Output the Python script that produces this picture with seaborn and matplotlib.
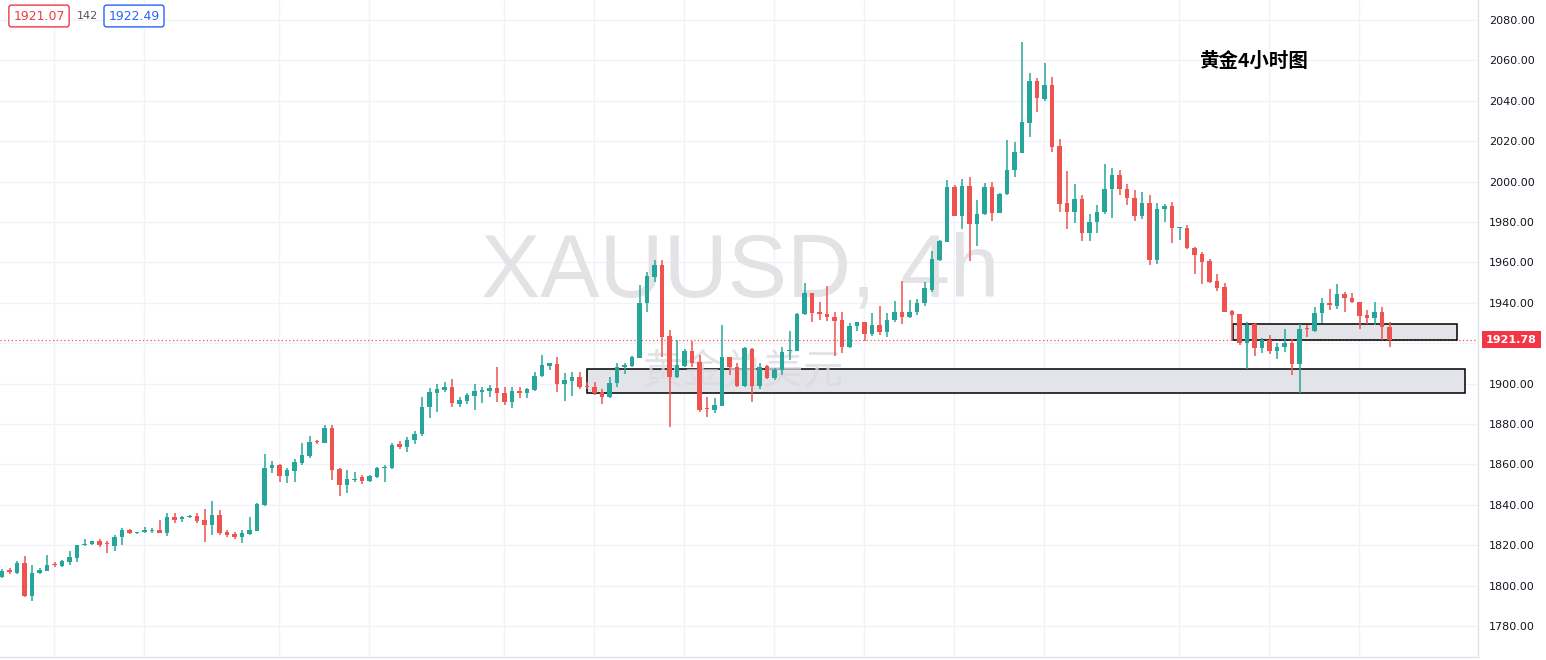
import numpy as np
import pandas as pd
import seaborn as sns
import matplotlib.pyplot as plt
from matplotlib.patches import Rectangle

# 4h candles (XAUUSD)
opens = [1804.4, 1807.5, 1806.4, 1811.0, 1795.0, 1806.1, 1807.4, 1810.5, 1809.7, 1811.7,
         1813.8, 1820.0, 1820.6, 1822.1, 1821.0, 1819.8, 1823.9, 1827.5, 1825.8, 1826.4,
         1827.0, 1827.5, 1825.9, 1834.1, 1832.8, 1833.8, 1834.5, 1832.5, 1830.2, 1835.0,
         1826.6, 1825.6, 1823.9, 1825.6, 1827.2, 1840.0, 1858.0, 1859.7, 1854.4, 1856.9,
         1860.8, 1864.1, 1871.3, 1870.7, 1877.8, 1857.5, 1849.8, 1852.2, 1853.6, 1851.9,
         1853.9, 1858.4, 1858.0, 1870.0, 1868.8, 1872.0, 1875.0, 1888.6, 1895.5, 1896.8,
         1898.3, 1889.9, 1891.6, 1893.9, 1896.0, 1896.5, 1898.0, 1895.5, 1891.1, 1896.5,
         1895.5, 1896.8, 1903.7, 1908.7, 1909.7, 1899.8, 1901.4, 1903.4, 1898.6, 1898.4,
         1896.0, 1893.2, 1900.1, 1908.1, 1908.7, 1912.8, 1939.7, 1953.0, 1958.7, 1923.6,
         1903.4, 1908.7, 1916.3, 1910.9, 1887.6, 1886.9, 1889.1, 1913.3, 1908.1, 1898.8,
         1917.0, 1898.8, 1908.7, 1902.6, 1906.7, 1916.3, 1916.3, 1934.5, 1945.0, 1935.6,
         1934.5, 1932.8, 1931.5, 1918.3, 1928.5, 1930.5, 1924.6, 1929.0, 1925.7, 1931.5,
         1935.6, 1933.1, 1935.6, 1940.0, 1946.5, 1961.2, 1970.3, 1997.5, 1983.0, 1997.8,
         1978.8, 1984.0, 1997.5, 1984.6, 1993.7, 2005.7, 2014.3, 2029.2, 2049.9, 2040.9,
         2047.8, 2017.6, 1989.2, 1985.1, 1991.2, 1974.4, 1980.2, 1985.1, 1996.2, 2003.1,
         1996.2, 1991.7, 1983.1, 1989.2, 1961.2, 1986.3, 1987.9, 1977.2, 1976.9, 1967.0,
         1964.2, 1960.9, 1950.8, 1947.7, 1936.0, 1934.5, 1920.3, 1929.3, 1917.5, 1921.6,
         1916.3, 1918.0, 1920.3, 1909.7, 1927.5, 1926.2, 1935.1, 1939.7, 1938.5, 1944.2,
         1942.2, 1940.5, 1933.9, 1932.3, 1935.6, 1927.8]
highs = [1808.0, 1808.5, 1812.0, 1814.7, 1810.2, 1808.6, 1815.2, 1811.5, 1812.6, 1817.3,
         1820.0, 1823.3, 1822.3, 1823.0, 1822.3, 1825.1, 1828.7, 1828.0, 1826.6, 1828.9,
         1828.4, 1832.5, 1835.8, 1835.8, 1834.5, 1835.0, 1835.8, 1837.8, 1842.1, 1837.4,
         1827.5, 1826.7, 1827.5, 1833.8, 1840.7, 1865.1, 1861.6, 1860.0, 1858.0, 1862.6,
         1870.4, 1874.0, 1872.0, 1879.5, 1879.5, 1858.0, 1857.2, 1856.4, 1854.7, 1854.7,
         1858.8, 1859.7, 1870.4, 1871.5, 1873.5, 1876.5, 1893.2, 1897.7, 1899.8, 1901.0,
         1902.1, 1893.2, 1895.5, 1899.8, 1898.2, 1899.3, 1908.4, 1898.5, 1898.5, 1898.2,
         1897.6, 1905.9, 1914.1, 1910.3, 1913.3, 1905.4, 1905.9, 1905.9, 1900.9, 1900.9,
         1897.1, 1903.4, 1910.0, 1910.3, 1913.6, 1948.8, 1955.0, 1961.2, 1961.2, 1926.5,
         1921.6, 1917.0, 1921.3, 1914.2, 1893.5, 1892.7, 1929.0, 1913.3, 1910.0, 1918.0,
         1917.5, 1910.4, 1909.0, 1907.6, 1918.3, 1926.2, 1935.1, 1950.0, 1945.0, 1940.6,
         1948.3, 1935.6, 1935.6, 1930.2, 1930.7, 1930.5, 1934.8, 1938.4, 1935.1, 1941.1,
         1950.8, 1941.4, 1942.0, 1950.4, 1965.8, 1971.1, 2000.8, 1998.3, 2001.1, 2002.4,
         1990.9, 1999.1, 2000.0, 1994.2, 2020.6, 2019.8, 2069.3, 2053.6, 2051.5, 2058.9,
         2052.0, 2020.9, 2005.4, 1998.8, 1993.4, 1984.0, 1988.4, 2008.7, 2006.6, 2005.7,
         1998.8, 1995.8, 1994.9, 1993.4, 1989.2, 1988.9, 1990.1, 1977.6, 1978.5, 1967.8,
         1965.3, 1961.5, 1954.3, 1950.0, 1936.4, 1934.5, 1930.7, 1929.8, 1922.4, 1924.1,
         1920.0, 1926.9, 1921.9, 1929.5, 1929.0, 1938.0, 1942.2, 1946.6, 1949.1, 1945.5,
         1945.0, 1940.5, 1936.4, 1940.2, 1938.0, 1930.6]
lows = [1803.8, 1805.5, 1805.8, 1794.5, 1792.6, 1805.5, 1807.0, 1809.0, 1809.0, 1810.2,
        1811.9, 1819.8, 1820.3, 1819.3, 1816.0, 1817.2, 1820.1, 1825.5, 1825.5, 1825.9,
        1825.9, 1825.9, 1824.7, 1831.2, 1831.7, 1833.5, 1830.8, 1821.8, 1825.1, 1825.1,
        1823.9, 1823.3, 1821.3, 1825.1, 1826.9, 1839.5, 1855.5, 1851.4, 1850.9, 1851.4,
        1859.7, 1863.3, 1870.0, 1870.4, 1852.2, 1844.5, 1846.0, 1851.4, 1850.3, 1851.4,
        1853.4, 1851.4, 1857.5, 1867.5, 1866.0, 1870.0, 1874.0, 1882.8, 1886.1, 1896.0,
        1888.6, 1888.6, 1889.9, 1887.0, 1890.6, 1893.5, 1891.1, 1889.4, 1887.8, 1892.7,
        1892.7, 1896.3, 1903.4, 1906.7, 1896.0, 1891.5, 1893.8, 1897.1, 1897.1, 1894.3,
        1889.9, 1892.7, 1898.4, 1904.7, 1908.3, 1912.5, 1935.6, 1950.5, 1913.3, 1878.7,
        1903.0, 1908.1, 1908.4, 1886.1, 1883.6, 1885.6, 1889.1, 1904.3, 1898.2, 1898.5,
        1891.1, 1897.2, 1902.1, 1901.8, 1904.3, 1911.7, 1916.3, 1934.0, 1930.7, 1931.5,
        1931.2, 1913.7, 1915.0, 1917.8, 1926.2, 1921.3, 1923.6, 1924.1, 1923.2, 1930.7,
        1929.5, 1932.3, 1934.0, 1938.5, 1945.5, 1960.9, 1970.3, 1982.9, 1976.4, 1960.9,
        1968.1, 1983.5, 1980.7, 1984.3, 1993.4, 2002.4, 2014.3, 2021.9, 2034.6, 2040.1,
        2014.8, 1985.1, 1976.4, 1979.7, 1970.8, 1970.8, 1974.4, 1984.0, 1981.8, 1993.4,
        1988.4, 1980.7, 1981.3, 1958.7, 1959.2, 1980.2, 1969.8, 1971.1, 1966.6, 1954.3,
        1949.3, 1950.0, 1946.0, 1935.6, 1921.6, 1919.1, 1907.1, 1913.7, 1915.3, 1914.7,
        1912.0, 1915.8, 1904.3, 1895.2, 1923.2, 1925.7, 1930.1, 1936.4, 1936.7, 1935.6,
        1939.7, 1926.8, 1929.5, 1929.0, 1921.5, 1917.9]
closes = [1807.4, 1806.8, 1811.4, 1795.0, 1806.1, 1807.8, 1810.2, 1810.0, 1812.2, 1814.0,
          1820.0, 1820.3, 1822.0, 1820.1, 1820.6, 1823.9, 1827.5, 1825.9, 1826.4, 1827.5,
          1827.3, 1825.9, 1833.8, 1832.5, 1834.1, 1834.5, 1832.2, 1830.0, 1835.0, 1826.2,
          1825.1, 1824.2, 1825.9, 1827.5, 1840.4, 1858.0, 1859.7, 1854.4, 1857.2, 1861.0,
          1864.6, 1870.9, 1870.9, 1877.8, 1857.2, 1849.8, 1852.6, 1853.0, 1851.9, 1854.2,
          1858.3, 1858.8, 1869.6, 1868.8, 1872.0, 1875.0, 1888.6, 1896.0, 1897.2, 1898.3,
          1890.2, 1891.9, 1894.4, 1896.4, 1896.8, 1897.7, 1895.2, 1891.1, 1896.4, 1895.5,
          1897.1, 1903.7, 1909.2, 1910.0, 1899.8, 1901.7, 1903.4, 1898.1, 1898.1, 1895.1,
          1893.2, 1900.4, 1908.3, 1909.2, 1913.3, 1939.7, 1953.2, 1958.7, 1923.2, 1903.4,
          1909.2, 1916.3, 1910.4, 1886.9, 1887.2, 1889.4, 1913.3, 1908.1, 1898.8, 1917.5,
          1898.8, 1908.4, 1902.6, 1906.7, 1915.8, 1916.8, 1934.5, 1945.0, 1935.1, 1934.3,
          1932.8, 1931.2, 1918.3, 1928.5, 1930.3, 1924.6, 1929.0, 1925.7, 1931.5, 1935.6,
          1933.1, 1935.6, 1940.0, 1947.1, 1961.5, 1970.8, 1997.5, 1983.0, 1997.8, 1978.8,
          1984.0, 1997.5, 1984.6, 1993.9, 2005.7, 2014.8, 2029.7, 2049.9, 2041.2, 2047.8,
          2017.3, 1988.9, 1985.1, 1991.2, 1974.4, 1980.2, 1985.1, 1996.2, 2003.1, 1996.2,
          1991.7, 1983.1, 1989.2, 1961.2, 1986.3, 1987.9, 1976.9, 1977.6, 1967.0, 1963.7,
          1960.4, 1950.5, 1947.5, 1935.6, 1934.0, 1919.9, 1929.0, 1917.5, 1921.6, 1916.3,
          1918.3, 1920.3, 1909.7, 1926.9, 1926.9, 1935.1, 1939.7, 1938.9, 1944.2, 1942.2,
          1940.5, 1933.6, 1932.3, 1935.2, 1927.8, 1921.78]

# support / resistance zones (candle index from/to, price low/high)
zone_start = [78.0, 164.1]
zone_end = [195.0, 194.0]
zone_low = [1895.3, 1921.4]
zone_high = [1907.4, 1929.4]

last_price = 1921.78
y_ticks = list(range(1780, 2081, 20))
day_lines = [7, 19, 37, 49, 67, 79, 91, 103, 115, 127, 139, 157, 169, 181]

UP = "#26a69a"
DOWN = "#ef5350"

df = pd.DataFrame({"open": opens, "high": highs, "low": lows, "close": closes})
df["idx"] = np.arange(len(df))
df["color"] = np.where(df["close"] >= df["open"], UP, DOWN)
df["bottom"] = df[["open", "close"]].min(axis=1)
df["body"] = (df["close"] - df["open"]).abs().clip(lower=0.5)

sns.set_theme(style="white")
plt.rcParams["font.family"] = ["DejaVu Sans", "Noto Sans CJK SC"]

fig = plt.figure(figsize=(15.46, 6.6), dpi=100)
ax = fig.add_axes([0, 3 / 660, 1478 / 1546, 657 / 660])

# grid
for v in y_ticks:
    ax.axhline(v, color="#f0f3fa", lw=1, zorder=0)
for d in day_lines:
    ax.axvline(d - 0.07, color="#f0f3fa", lw=1, zorder=0)

# watermark
ax.text(740 / 1478, 1 - 273 / 657, "XAUUSD, 4h", transform=ax.transAxes,
        ha="center", va="center", fontsize=64, color="#e3e3e6",
        family=["Liberation Sans", "DejaVu Sans"], zorder=0.5)
ax.text(743 / 1478, 1 - 372 / 657, "黄金兑美元", transform=ax.transAxes,
        ha="center", va="center", fontsize=29, color="#dcdcdf", alpha=0.8,
        family=["Noto Sans CJK SC", "DejaVu Sans"], zorder=2.5)

# zones
for x0, x1, lo, hi in zip(zone_start, zone_end, zone_low, zone_high):
    ax.add_patch(Rectangle((x0, lo), x1 - x0, hi - lo, facecolor="#e2e4e9",
                           edgecolor="#000000", lw=1.1, zorder=2))

# candles
ax.vlines(df["idx"], df["low"], df["high"], colors=df["color"], lw=1.1, zorder=3)
ax.bar(df["idx"], df["body"], bottom=df["bottom"], width=0.62,
       color=df["color"], linewidth=0, zorder=4)

# last price line
ax.axhline(last_price, color=DOWN, lw=0.9, ls=(0, (1, 2)), zorder=1)

ax.set_xlim(-0.27, 196.8)
ax.set_ylim(1764.65, 2089.9)
ax.set_xticks([])
ax.yaxis.tick_right()
ax.set_yticks(y_ticks)
# the 1920 label sits under the last-price tag
ax.set_yticklabels(["" if v == 1920 else f"{v:.2f}" for v in y_ticks])
ax.tick_params(axis="y", length=0, pad=8, labelsize=8, labelcolor="#131722")
for s in ["top", "left"]:
    ax.spines[s].set_visible(False)
for s in ["right", "bottom"]:
    ax.spines[s].set_color("#e0e3eb")
    ax.spines[s].set_linewidth(1)

# price tag on the axis
ax.annotate(f"{last_price:.2f}", xy=(1.0, last_price),
            xycoords=("axes fraction", "data"), xytext=(24, 0),
            textcoords="offset points", ha="center", va="center",
            fontsize=8, fontweight="bold", color="white",
            bbox=dict(boxstyle="square,pad=0.35", fc="#f23645", ec="none"),
            annotation_clip=False)

# title
ax.text(1253 / 1478, 1 - 61 / 657, "黄金4小时图", transform=ax.transAxes,
        ha="center", va="center", fontsize=14, fontweight="bold", color="#000000",
        family=["Noto Sans CJK SC", "DejaVu Sans"], zorder=6)

# top-left price boxes
fig.text(39 / 1546, 1 - 16 / 660, "1921.07", ha="center", va="center", fontsize=9,
         color="#f23645", bbox=dict(boxstyle="round,pad=0.35,rounding_size=0.2",
                                    fc="white", ec="#f23645", lw=1))
fig.text(87 / 1546, 1 - 16 / 660, "142", ha="center", va="center", fontsize=8,
         color="#555555")
fig.text(134 / 1546, 1 - 16 / 660, "1922.49", ha="center", va="center", fontsize=9,
         color="#2962ff", bbox=dict(boxstyle="round,pad=0.35,rounding_size=0.2",
                                    fc="white", ec="#2962ff", lw=1))

fig.savefig("out.png", dpi=100, facecolor="white")
